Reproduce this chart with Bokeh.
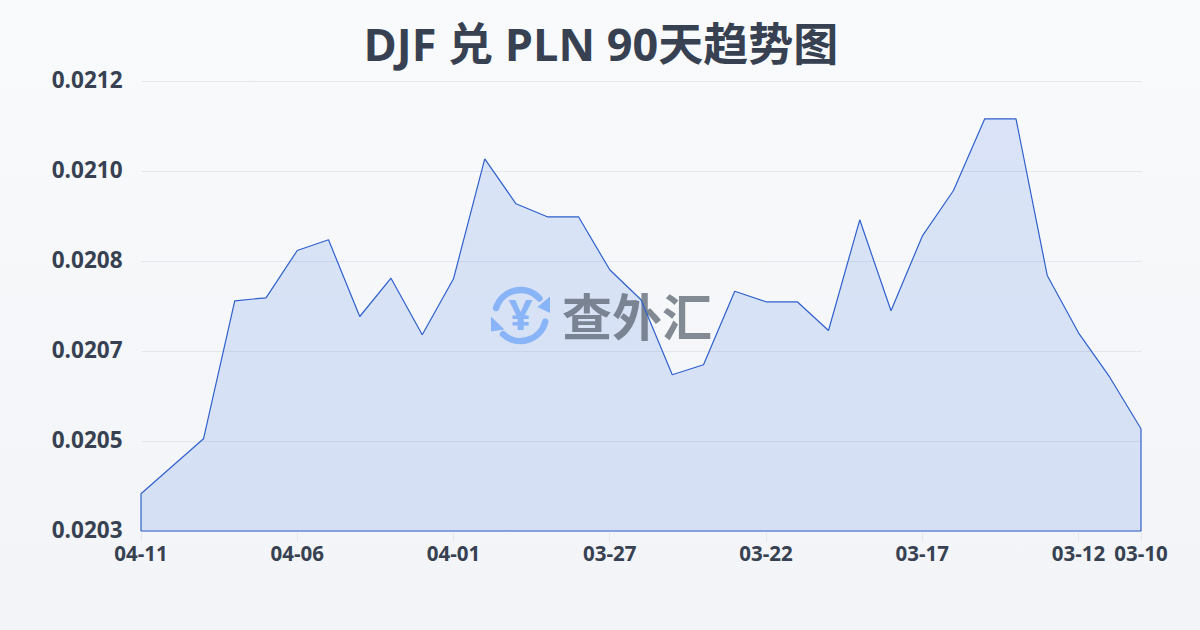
import math
from bokeh.embed import file_html
from bokeh.resources import INLINE
from bokeh.plotting import figure
from bokeh.models import Range1d, FixedTicker, LinearAxis
from bokeh.core.properties import value

dates = ["04-11","04-10","04-09","04-08","04-07","04-06","04-05","04-04","04-03","04-02","04-01",
         "03-31","03-30","03-29","03-28","03-27","03-26","03-25","03-24","03-23","03-22",
         "03-21","03-20","03-19","03-18","03-17","03-16","03-15","03-14","03-13","03-12","03-11","03-10"]
rates = [0.0203744,0.0204294,0.0204844,0.0207604,0.0207664,0.0208610,0.0208824,0.0207290,0.0208056,0.0206924,0.0208044,
         0.0210444,0.0209544,0.0209284,0.0209284,0.0208224,0.0207624,0.0206124,0.0206324,0.0207796,0.0207584,
         0.0207584,0.0207010,0.0209224,0.0207404,0.0208896,0.0209810,0.0211244,0.0211244,0.0208110,0.0206964,0.0206076,0.0205044]
x_label_dates = ["04-11","04-06","04-01","03-27","03-22","03-17","03-12","03-10"]
y_ticks = [0.0203,0.02048,0.02066,0.02084,0.02102,0.0212]
title_text = "DJF 兑 PLN 90天趋势图"
watermark = "查外汇"

INK = "#374151"
FONT = "'Open Sans', 'Noto Sans CJK SC', sans-serif"
LINE_BLUE = "#2f60cc"
FILL_BLUE = "#2a62e0"
LOGO = "#8ab4f8"

PXX = (len(rates)-1) / 1000
PXY = (y_ticks[-1]-y_ticks[0]) / 450
idx = list(range(len(rates)))
y0, y1 = y_ticks[0]-1.5*PXY, y_ticks[-1]+2.5*PXY
p = figure(width=1200, height=630, output_backend="svg", toolbar_location=None,
           x_range=Range1d(-1.5*PXX, len(rates)-1+1.5*PXX),
           y_range=Range1d(y0, y1),
           min_border_left=139, min_border_right=58, min_border_top=78, min_border_bottom=98,
           background_fill_alpha=0, border_fill_alpha=0, outline_line_alpha=0)
p.styles = {"background": "linear-gradient(180deg,#f8fafc,#f2f4f7)"}

p.title.text = title_text
p.title.align = "left"
p.title.offset = 224
p.title.text_font = FONT
p.title.text_font_size = "45px"
p.title.text_font_style = "bold"
p.title.text_color = INK
p.title.standoff = 10

# the y labels sit 2px above their grid lines, so their axis runs on a range lowered by 2px
p.extra_y_ranges = {"labels": Range1d(y0-2*PXY, y1-2*PXY)}
p.yaxis[0].visible = False
ya = LinearAxis(y_range_name="labels")
p.add_layout(ya, "left")
xa = p.xaxis[0]
xa.ticker = FixedTicker(ticks=[dates.index(d) for d in x_label_dates])
xa.major_label_overrides = {dates.index(d): d for d in x_label_dates}
ya.ticker = FixedTicker(ticks=y_ticks)
ya.major_label_overrides = {t: f"{t:.4f}" for t in y_ticks}
for a in (xa, ya):
    a.axis_line_color = None
    a.minor_tick_line_color = None
    a.major_label_text_font = FONT
    a.major_label_text_font_style = "bold"
    a.major_label_text_color = INK
xa.major_label_text_font_size = "20.5px"
ya.major_label_text_font_size = "22.5px"
xa.major_tick_line_color = "#e5e7eb"
xa.major_tick_out = 9
xa.major_tick_in = 0
xa.major_label_standoff = 4
ya.major_tick_line_color = None
ya.major_tick_out = 0
ya.major_tick_in = 0
ya.major_label_standoff = 17
p.xgrid.grid_line_color = None
p.ygrid.ticker = FixedTicker(ticks=y_ticks)
p.ygrid.grid_line_color = "#e5e7eb"
p.ygrid.grid_line_width = 1
p.ygrid.cross_bounds = (0, len(rates)-1)

base = y_ticks[0]
xs = idx + [idx[-1], idx[0]]
ys = rates + [base, base]
p.patch(xs, ys, fill_color=FILL_BLUE, fill_alpha=0.14, line_color=None)

def X(px): return (px-140.5) * PXX
def Y(py): return y_ticks[0] + (530.5-py) * PXY

cx, cy = 520, 315
p.arc([X(cx)], [Y(cy)], radius=25.5, radius_units="screen", start_angle=math.radians(42), end_angle=math.radians(163),
      line_color=LOGO, line_width=6.5, line_cap="round")
p.arc([X(cx)], [Y(cy)], radius=25.5, radius_units="screen", start_angle=math.radians(-133), end_angle=math.radians(-14),
      line_color=LOGO, line_width=6.5, line_cap="round")
p.patch([X(549.5), X(549.5), X(537)], [Y(296), Y(312.5), Y(306.5)], fill_color=LOGO, line_color=None)
p.patch([X(490.5), X(490.5), X(504)], [Y(316), Y(331), Y(329)], fill_color=LOGO, line_color=None)
p.text([X(cx)], [Y(cy-2)], text=["¥"], text_align="center", text_baseline="middle",
       text_font=value("Open Sans"), text_font_style="bold", text_font_size="42px", text_color=LOGO)
p.text([X(636.5)], [Y(313)], text=[watermark], text_align="center", text_baseline="middle",
       text_font=value("Noto Sans CJK SC"), text_font_style="bold", text_font_size="50px",
       text_color="#4b5563", text_alpha=0.68)

p.patch(xs, ys, fill_alpha=0, line_color=LINE_BLUE, line_width=1.2)

open("out.html", "w").write(file_html(p, INLINE))
